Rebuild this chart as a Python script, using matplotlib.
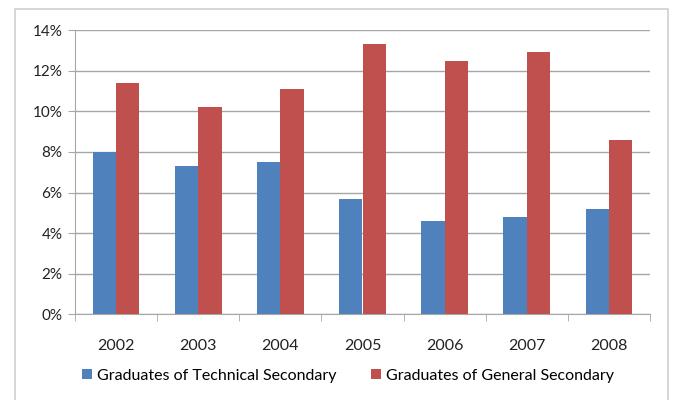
import matplotlib.pyplot as plt
from matplotlib.patches import Rectangle
from matplotlib.ticker import FuncFormatter
import numpy as np

years = ["2002", "2003", "2004", "2005", "2006", "2007", "2008"]
technical = [8.0, 7.3, 7.5, 5.7, 4.6, 4.8, 5.2]
general = [11.4, 10.2, 11.1, 13.3, 12.5, 12.9, 8.6]
series_names = ["Graduates of Technical Secondary", "Graduates of General Secondary"]

plt.rcParams['font.family'] = ['Lato', 'DejaVu Sans']

fig = plt.figure(figsize=(6.74, 4.0), dpi=100)
ax = fig.add_axes([75 / 674, 1 - 314.3 / 400, 575 / 674, 284.2 / 400])

# outer chart frame (open at the bottom)
fig.patches.append(Rectangle((15 / 674, -0.05), 653 / 674, 1.05 - 9 / 400,
                             transform=fig.transFigure, fill=False,
                             edgecolor='#d0d0d0', linewidth=1.2))

x = np.arange(len(years))
w = 0.285
ax.bar(x - w / 2, technical, w, color='#4f81bd', label=series_names[0], zorder=3)
ax.bar(x + w / 2, general, w, color='#c0504d', label=series_names[1], zorder=3)

ax.set_xlim(-0.5, len(years) - 0.5)
ax.set_ylim(0, 14)
ax.set_yticks(range(0, 15, 2))
ax.yaxis.set_major_formatter(FuncFormatter(lambda v, p: f"{v:.0f}%"))
ax.yaxis.grid(True, color='#a6a6a6', linewidth=1.0, zorder=0)

ax.set_xticks(x)
ax.set_xticklabels(years)
ax.set_xticks(np.arange(-0.5, len(years)), minor=True)
ax.tick_params(axis='x', which='major', length=0, pad=18, labelsize=11.5, colors='#222222')
ax.tick_params(axis='x', which='minor', length=5, color='#a6a6a6')
ax.tick_params(axis='y', length=5, color='#a6a6a6', pad=4, labelsize=11, colors='#222222')

for side in ['top', 'right']:
    ax.spines[side].set_visible(False)
for side in ['left', 'bottom']:
    ax.spines[side].set_color('#a6a6a6')

fig.legend(loc='center', bbox_to_anchor=(348 / 674, 1 - 376 / 400), ncol=2,
           frameon=False, fontsize=11.5, handlelength=0.6, handleheight=0.6,
           handletextpad=0.3, columnspacing=2.2)

fig.savefig("out.png", dpi=100)
